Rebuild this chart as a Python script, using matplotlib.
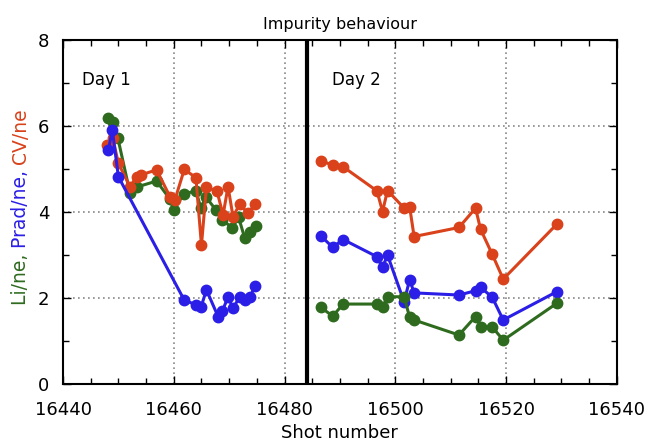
import matplotlib
matplotlib.use("Agg")
import matplotlib.pyplot as plt
from matplotlib.ticker import MultipleLocator
from matplotlib import font_manager

# narrow font if there is one, else DejaVu
names = set(f.name for f in font_manager.fontManager.ttflist)
fams = [n for n in ['Liberation Sans Narrow', 'DejaVu Sans Condensed'] if n in names]
plt.rcParams['font.family'] = fams + ['DejaVu Sans']
narrow = len(fams) > 0

# Day 1
li_x1 = [16448.1, 16449.0, 16449.9, 16452.1, 16453.3, 16456.9, 16459.3, 16460.0, 16461.8, 16464.0,
         16464.9, 16465.8, 16467.6, 16468.8, 16470.6, 16471.7, 16472.8, 16473.7, 16474.8]
li_y1 = [6.19, 6.09, 5.72, 4.44, 4.58, 4.72, 4.30, 4.05, 4.42, 4.49,
         4.09, 4.35, 4.05, 3.81, 3.63, 3.88, 3.40, 3.53, 3.67]
cv_x1 = [16447.9, 16449.0, 16450.0, 16452.1, 16453.3, 16454.0, 16456.9, 16459.3, 16460.2, 16461.9,
         16464.0, 16465.0, 16465.9, 16467.8, 16468.9, 16469.8, 16470.7, 16471.9, 16473.4, 16474.7]
cv_y1 = [5.56, 5.71, 5.13, 4.59, 4.82, 4.86, 4.98, 4.36, 4.28, 4.99,
         4.80, 3.23, 4.57, 4.49, 3.93, 4.59, 3.89, 4.18, 3.97, 4.18]
prad_x1 = [16448.2, 16448.9, 16450.0, 16461.9, 16464.1, 16464.9, 16465.9, 16468.0, 16468.8, 16469.8,
           16470.7, 16471.9, 16472.8, 16473.8, 16474.7]
prad_y1 = [5.44, 5.91, 4.82, 1.95, 1.84, 1.78, 2.19, 1.57, 1.70, 2.03,
           1.76, 2.03, 1.95, 2.03, 2.29]

# Day 2
x2 = [16486.6, 16488.7, 16490.6, 16496.7, 16497.7, 16498.6, 16501.6, 16502.6, 16503.4, 16511.5,
      16514.5, 16515.4, 16517.5, 16519.5, 16529.2]
cv_y2 = [5.19, 5.09, 5.05, 4.49, 4.01, 4.50, 4.09, 4.12, 3.43, 3.64,
         4.09, 3.60, 3.02, 2.44, 3.72]
prad_y2 = [3.44, 3.18, 3.36, 2.96, 2.71, 3.00, 1.91, 2.43, 2.12, 2.07,
           2.17, 2.25, 2.02, 1.49, 2.15]
li_y2 = [1.78, 1.58, 1.86, 1.86, 1.78, 2.03, 2.03, 1.55, 1.49, 1.14,
         1.57, 1.33, 1.33, 1.02, 1.88]

day_split = 16484

green = '#2f6b1f'
blue = '#2b1ee6'
red = '#d9421b'

fig = plt.figure(figsize=(6.53, 4.44), dpi=100)
ax = fig.add_axes([0.0965, 0.135, 0.848, 0.775])

style = dict(marker='o', markersize=7.5, linewidth=2.2)
ax.plot(li_x1, li_y1, color=green, **style)
ax.plot(cv_x1, cv_y1, color=red, **style)
ax.plot(prad_x1, prad_y1, color=blue, **style)
ax.plot(x2, cv_y2, color=red, **style)
ax.plot(x2, prad_y2, color=blue, **style)
ax.plot(x2, li_y2, color=green, **style)

ax.axvline(day_split, color='black', linewidth=3)

tick_fs = 15 if narrow else 13
ax.set_xlim(16440, 16540)
ax.set_ylim(0, 8)
ax.xaxis.set_major_locator(MultipleLocator(20))
ax.xaxis.set_minor_locator(MultipleLocator(5))
ax.yaxis.set_major_locator(MultipleLocator(2))
ax.yaxis.set_minor_locator(MultipleLocator(1))
ax.tick_params(which='both', direction='in', top=True, right=True, labelsize=tick_fs)
ax.tick_params(which='major', length=6, width=1)
ax.tick_params(which='minor', length=4, width=1)
ax.tick_params(axis='y', pad=10)
ax.tick_params(axis='x', pad=12)
ax.grid(True, which='major', linestyle=(0, (1, 2)), color='#888888', linewidth=1.2)
for s in ax.spines.values():
    s.set_linewidth(1.5)

ax.text(16443.4, 7.07, 'Day 1', fontsize=12, va='center')
ax.text(16488.5, 7.07, 'Day 2', fontsize=12, va='center')

ax.set_title('Impurity behaviour', fontsize=13 if narrow else 11.5, pad=8)
ax.set_xlabel('Shot number', fontsize=14 if narrow else 13, labelpad=4)

# multicoloured y label
ylab = [('Li/ne, ', green), ('Prad/ne, ', blue), ('CV/ne', red)]
fig.canvas.draw()
renderer = fig.canvas.get_renderer()
widths = []
texts = []
for s, c in ylab:
    t = fig.text(0, 0, s, color=c, fontsize=14 if narrow else 13.5, rotation=90, va='bottom', ha='center')
    texts.append(t)
    widths.append(t.get_window_extent(renderer).height / fig.bbox.height)
y0 = 0.535 - sum(widths) / 2
for t, w in zip(texts, widths):
    t.set_position((0.032, y0))
    y0 += w

fig.savefig('out.png', dpi=100)
